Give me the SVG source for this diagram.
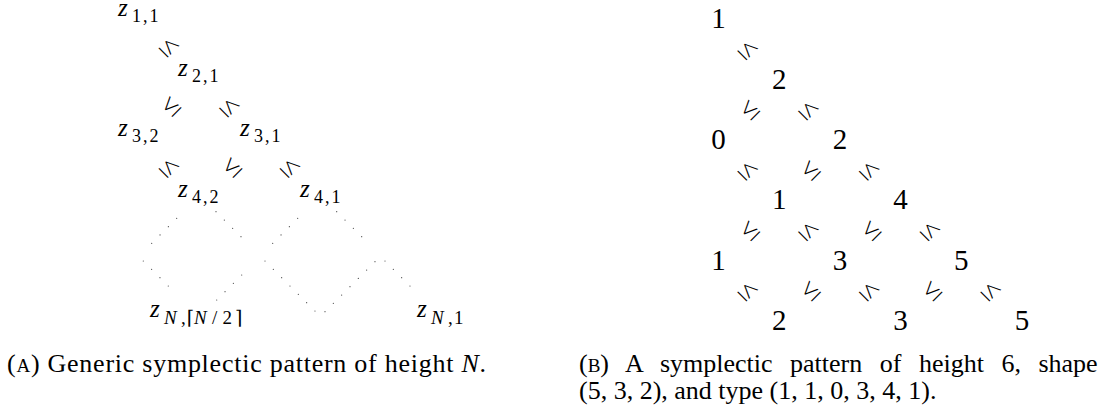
<svg xmlns="http://www.w3.org/2000/svg" width="1114" height="414" viewBox="0 0 1114 414" font-family="'Liberation Serif', 'Times New Roman', 'DejaVu Serif', serif">
<style>
text{font-family:'Liberation Serif','Times New Roman','DejaVu Serif',serif;fill:#000}
.z{font-style:italic;font-size:25px}
.sub{font-style:normal;font-size:18px;letter-spacing:2px}
.it{font-style:italic}
.up{font-style:normal}
.num{font-size:29px;text-anchor:middle}
.sym{font-family:'Open Sans','Roboto',sans-serif;font-weight:300;font-size:28px;text-anchor:middle}
.cap{font-size:26px}
.dot{stroke:#444;stroke-width:1.2;stroke-linecap:round;stroke-dasharray:0 11.78;fill:none}
</style>
<rect width="1114" height="414" fill="#fff"/>
<defs>
<text id="le" class="sym" y="9.7">≤</text>
</defs>

<!-- (A) generic pattern -->
<g id="nodeA-z11"><text class="z" x="118" y="16">z<tspan class="sub" x="132" y="21.9">1,1</tspan></text></g>
<g id="nodeA-z21"><text class="z" x="178" y="75.5">z<tspan class="sub" x="192" y="81.7">2,1</tspan></text></g>
<g id="nodeA-z32"><text class="z" x="118" y="136">z<tspan class="sub" x="132" y="142.2">3,2</tspan></text></g>
<g id="nodeA-z31"><text class="z" x="240" y="136">z<tspan class="sub" x="254" y="142.2">3,1</tspan></text></g>
<g id="nodeA-z42"><text class="z" x="178" y="196.5">z<tspan class="sub" x="192" y="202.7">4,2</tspan></text></g>
<g id="nodeA-z41"><text class="z" x="300" y="196.5">z<tspan class="sub" x="314" y="202.7">4,1</tspan></text></g>
<g id="nodeA-zNc"><text class="z" x="150" y="317">z<tspan font-size="19" x="164" y="323.5">N</tspan><tspan class="up" font-size="19" x="181" y="323.5">,</tspan><tspan class="up" font-size="19" x="186.5" y="323.5">⌈</tspan><tspan font-size="19" x="194" y="323.5">N</tspan><tspan class="up" font-size="19" x="212" y="323.5">/</tspan><tspan class="up" font-size="19" x="222.5" y="323.5">2</tspan><tspan class="up" font-size="19" x="235" y="323.5">⌉</tspan></text></g>
<g id="nodeA-zN1"><text class="z" x="417" y="317">z<tspan font-size="19" x="431" y="323.5">N</tspan><tspan class="up" font-size="19" x="448" y="323.5">,</tspan><tspan class="up" font-size="19" x="454" y="323.5">1</tspan></text></g>

<!-- (B) example pattern -->
<g id="nodeB-r0c0"><text class="num" x="718.5" y="28.3">1</text></g>
<g id="nodeB-r1c1"><text class="num" x="779.2" y="88.65">2</text></g>
<g id="nodeB-r2c0"><text class="num" x="718.5" y="149">0</text></g>
<g id="nodeB-r2c2"><text class="num" x="839.9" y="149">2</text></g>
<g id="nodeB-r3c1"><text class="num" x="779.2" y="209.35">1</text></g>
<g id="nodeB-r3c3"><text class="num" x="900.6" y="209.35">4</text></g>
<g id="nodeB-r4c0"><text class="num" x="718.5" y="269.7">1</text></g>
<g id="nodeB-r4c2"><text class="num" x="839.9" y="269.7">3</text></g>
<g id="nodeB-r4c4"><text class="num" x="961.3" y="269.7">5</text></g>
<g id="nodeB-r5c1"><text class="num" x="779.2" y="330.05">2</text></g>
<g id="nodeB-r5c3"><text class="num" x="900.6" y="330.05">3</text></g>
<g id="nodeB-r5c5"><text class="num" x="1022" y="330.05">5</text></g>

<g id="connectors">
  <use href="#le" transform="translate(170,46) rotate(45)"/>
  <use href="#le" transform="translate(170,105.5) rotate(-45)"/>
  <use href="#le" transform="translate(230.5,106) rotate(45)"/>
  <use href="#le" transform="translate(170,166.5) rotate(45)"/>
  <use href="#le" transform="translate(231,166.5) rotate(-45)"/>
  <use href="#le" transform="translate(291,166.5) rotate(45)"/>
  <line class="dot" x1="176.7" y1="218.3" x2="143.4" y2="251.6"/>
  <line class="dot" x1="143.3" y1="261" x2="176.6" y2="294.3"/>
  <line class="dot" x1="216" y1="211.7" x2="249.3" y2="245"/>
  <line class="dot" x1="216.7" y1="300" x2="250" y2="266.7"/>
  <line class="dot" x1="297.7" y1="218.3" x2="264.4" y2="251.6"/>
  <line class="dot" x1="265" y1="261" x2="315" y2="311"/>
  <line class="dot" x1="336.7" y1="211.7" x2="370" y2="245"/>
  <line class="dot" x1="325" y1="311.7" x2="375" y2="261.7"/>
  <line class="dot" x1="385" y1="261" x2="418.3" y2="294.3"/>
  <use href="#le" transform="translate(748.85,48.7) rotate(45)"/>
  <use href="#le" transform="translate(748.85,109.05) rotate(-45)"/>
  <use href="#le" transform="translate(809.55,109.05) rotate(45)"/>
  <use href="#le" transform="translate(748.85,169.4) rotate(45)"/>
  <use href="#le" transform="translate(809.55,169.4) rotate(-45)"/>
  <use href="#le" transform="translate(870.25,169.4) rotate(45)"/>
  <use href="#le" transform="translate(748.85,229.75) rotate(-45)"/>
  <use href="#le" transform="translate(809.55,229.75) rotate(45)"/>
  <use href="#le" transform="translate(870.25,229.75) rotate(-45)"/>
  <use href="#le" transform="translate(930.95,229.75) rotate(45)"/>
  <use href="#le" transform="translate(748.85,290.1) rotate(45)"/>
  <use href="#le" transform="translate(809.55,290.1) rotate(-45)"/>
  <use href="#le" transform="translate(870.25,290.1) rotate(45)"/>
  <use href="#le" transform="translate(930.95,290.1) rotate(-45)"/>
  <use href="#le" transform="translate(991.65,290.1) rotate(45)"/>
</g>

<text class="cap" x="7" y="372" textLength="479" lengthAdjust="spacing">(<tspan font-size="19">A</tspan>) Generic symplectic pattern of height <tspan class="it">N</tspan>.</text>
<text class="cap" x="579" y="372" word-spacing="11">(<tspan font-size="19">B</tspan>) A symplectic pattern of height 6, shape</text>
<text class="cap" x="579" y="399">(5, 3, 2), and type (1, 1, 0, 3, 4, 1).</text>
</svg>
